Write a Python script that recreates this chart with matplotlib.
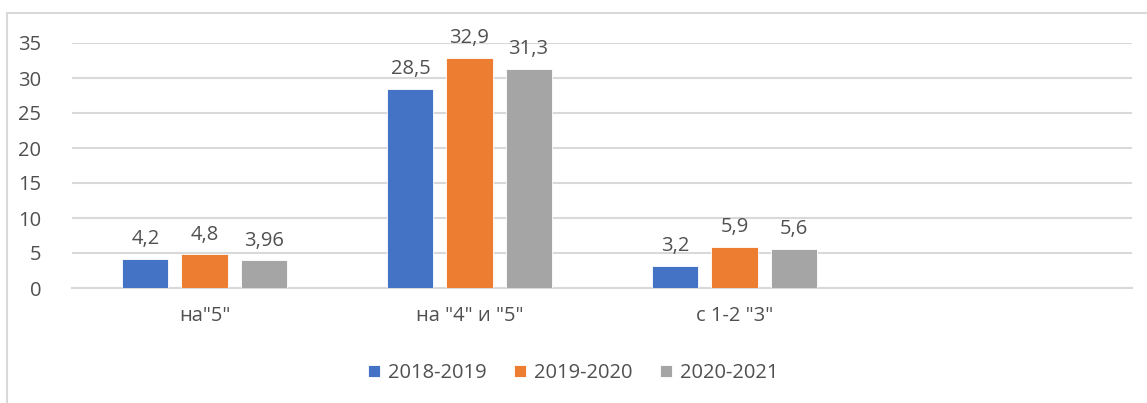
import matplotlib.pyplot as plt
from matplotlib.patches import Rectangle
import numpy as np

categories = ['на"5"', 'на "4" и "5"', 'с 1-2 "3"', '']
years = ["2018-2019", "2019-2020", "2020-2021"]
values_2018 = [4.2, 28.5, 3.2]
values_2019 = [4.8, 32.9, 5.9]
values_2020 = [3.96, 31.3, 5.6]
labels_2018 = ["4,2", "28,5", "3,2"]
labels_2019 = ["4,8", "32,9", "5,9"]
labels_2020 = ["3,96", "31,3", "5,6"]
colors = ["#4472C4", "#ED7D31", "#A5A5A5"]

plt.rcParams["font.family"] = ["Open Sans", "DejaVu Sans"]
text_color = "#505050"
grid_color = "#D9D9D9"
fsize = 14.5

fig = plt.figure(figsize=(11.47, 4.03), dpi=100)
ax = fig.add_axes([72 / 1147, 1 - 288 / 403, 1060 / 1147, 245 / 403])

# chart border (Excel style)
fig.patches.append(Rectangle((7 / 1147, -0.1), 1.2, 1 - 13 / 403 + 0.1,
                             transform=fig.transFigure, fill=False,
                             edgecolor=grid_color, linewidth=1.5))

x = np.arange(len(values_2018))
width = 0.174
step = 0.223
series = [(values_2018, labels_2018), (values_2019, labels_2019), (values_2020, labels_2020)]
for i, (vals, labs) in enumerate(series):
    pos = x + (i - 1) * step
    bars = ax.bar(pos, vals, width, color=colors[i], label=years[i], zorder=3,
                  edgecolor="white", linewidth=0.6)
    ax.bar_label(bars, labels=labs, padding=7, fontsize=fsize, color=text_color)

ax.set_xlim(-0.5, len(categories) - 0.5)
ax.set_ylim(0, 35)
ax.set_yticks(range(0, 36, 5))
ax.set_xticks(range(len(categories)))
ax.set_xticklabels(categories)
ax.tick_params(axis="both", length=0, labelsize=fsize, colors=text_color)
ax.tick_params(axis="y", pad=22)
ax.tick_params(axis="x", pad=13)
ax.grid(axis="y", color=grid_color, linewidth=1.5, zorder=0)
for s in ["top", "right", "left"]:
    ax.spines[s].set_visible(False)
ax.spines["bottom"].set_color(grid_color)
ax.spines["bottom"].set_linewidth(1.5)

fig.legend(loc="center", bbox_to_anchor=(573 / 1147, 1 - 373 / 403), ncol=3,
           frameon=False, fontsize=fsize, handlelength=0.6, handleheight=0.6,
           handletextpad=0.4, columnspacing=1.35, labelcolor=text_color)

fig.savefig("out.png", dpi=100)
